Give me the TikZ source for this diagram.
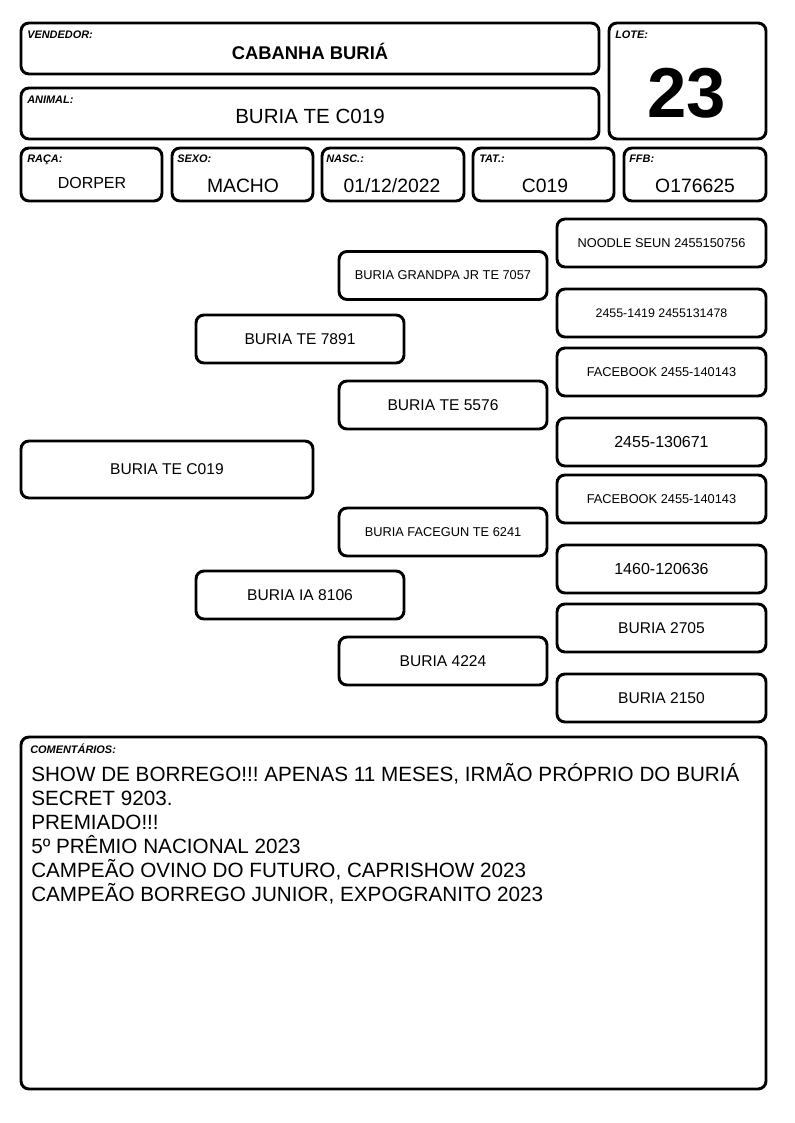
\documentclass[tikz,border=0pt]{standalone}
\usepackage{fontspec}
\setmainfont{Liberation Sans}
\usepackage{tikz}
\frenchspacing
\newcommand{\tamfonte}[1]{\fontsize{#1}{#1}\selectfont}

\tikzset{
    campo/.style={draw, line width=2.2pt, rounded corners=6pt, inner sep=0pt},
    tam/.style 2 args={minimum width=#1*0.75pt, minimum height=#2*0.75pt},
    rotulo/.style={anchor=base west, inner sep=0pt, font=\tamfonte{8.2pt}\bfseries\itshape},
    valor/.style={anchor=base, inner sep=0pt},
    ped/.style={campo, tam={208}{48}, font=\tamfonte{11.7pt}},
    pedp/.style={campo, tam={208}{48}, font=\tamfonte{9.6pt}}
}

\begin{document}
\begin{tikzpicture}[x=0.75pt,y=-0.75pt]
    \useasboundingbox (0,0) rectangle (794,1123);
    % cabecalho
    \node[campo,tam={578}{51}] (vendedor) at (310,48.5) {};
    \node[rotulo] (vendedorR) at (27,39) {VENDEDOR:};
    \node[valor,font=\tamfonte{13.8pt}\bfseries] (vendedorV) at (310,59.5) {CABANHA BURIÁ};
    \node[campo,tam={578}{51}] (animal) at (310,113.5) {};
    \node[rotulo] (animalR) at (27,103.5) {ANIMAL:};
    \node[valor,font=\tamfonte{15.4pt}] (animalV) at (310,123.5) {BURIA TE C019};
    \node[campo,tam={157}{116}] (lote) at (687.5,81) {};
    \node[rotulo] (loteR) at (615,39) {LOTE:};
    \node[valor,font=\tamfonte{53pt}\bfseries] (loteV) at (687,118) {23};
    % dados
    \node[campo,tam={141}{53}] (raca) at (91.5,174.5) {};
    \node[rotulo] (racaR) at (27,163) {RAÇA:};
    \node[valor,font=\tamfonte{12pt}] (racaV) at (92,189) {DORPER};
    \node[campo,tam={141}{53}] (sexo) at (242.5,174.5) {};
    \node[rotulo] (sexoR) at (177,163) {SEXO:};
    \node[valor,font=\tamfonte{14.5pt}] (sexoV) at (243,193) {MACHO};
    \node[campo,tam={142}{53}] (nasc) at (393,174.5) {};
    \node[rotulo] (nascR) at (326,163) {NASC.:};
    \node[valor,font=\tamfonte{14.5pt}] (nascV) at (392,193) {01/12/2022};
    \node[campo,tam={141}{53}] (tat) at (543.5,174.5) {};
    \node[rotulo] (tatR) at (479,163) {TAT.:};
    \node[valor,font=\tamfonte{14.5pt}] (tatV) at (545,193) {C019};
    \node[campo,tam={142}{53}] (ffb) at (695,174.5) {};
    \node[rotulo] (ffbR) at (629,163) {FFB:};
    \node[valor,font=\tamfonte{14.5pt}] (ffbV) at (695,193) {O176625};
    % genealogia
    \node[campo,tam={292}{57},font=\tamfonte{11.7pt}] (filho) at (167,469.5) {BURIA TE C019};
    \node[ped] (pai) at (300,339) {BURIA TE 7891};
    \node[ped] (mae) at (300,595) {BURIA IA 8106};
    \node[pedp] (avoPP) at (443,275.5) {BURIA GRANDPA JR TE 7057};
    \node[ped] (avoPM) at (443,405) {BURIA TE 5576};
    \node[pedp] (avoMP) at (443,532) {BURIA FACEGUN TE 6241};
    \node[ped] (avoMM) at (443,661) {BURIA 4224};
    \node[pedp,tam={209}{48}] (bis1) at (661.5,243) {NOODLE SEUN 2455150756};
    \node[pedp,tam={209}{48},font=\tamfonte{9.3pt}] (bis2) at (661.5,313) {2455-1419 2455131478};
    \node[pedp,tam={209}{48}] (bis3) at (661.5,372) {FACEBOOK 2455-140143};
    \node[ped,tam={209}{48},font=\tamfonte{12pt}] (bis4) at (661.5,442) {2455-130671};
    \node[pedp,tam={209}{48}] (bis5) at (661.5,499) {FACEBOOK 2455-140143};
    \node[ped,tam={209}{48},font=\tamfonte{12pt}] (bis6) at (661.5,569) {1460-120636};
    \node[ped,tam={209}{48}] (bis7) at (661.5,628) {BURIA 2705};
    \node[ped,tam={209}{48}] (bis8) at (661.5,698) {BURIA 2150};
    % comentarios
    \node[campo,tam={745}{352}] (coment) at (393.5,913) {};
    \node[rotulo] (comentR) at (30,753) {COMENTÁRIOS:};
    \node[anchor=north west,inner sep=0pt,align=left,font=\fontsize{15.5pt}{18pt}\selectfont] (comentV) at (31,763)
        {SHOW DE BORREGO!!! APENAS 11 MESES, IRMÃO PRÓPRIO DO BURIÁ\\SECRET 9203.\\PREMIADO!!!\\5º PRÊMIO NACIONAL 2023\\CAMPEÃO OVINO DO FUTURO, CAPRISHOW 2023\\CAMPEÃO BORREGO JUNIOR, EXPOGRANITO 2023};
\end{tikzpicture}
\end{document}
